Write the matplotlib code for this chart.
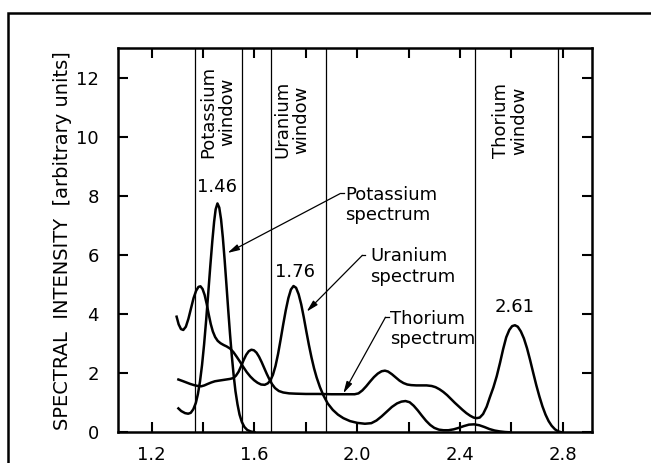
import matplotlib
matplotlib.use('Agg')
import matplotlib.pyplot as plt
from matplotlib.patches import Rectangle

plt.rcParams['font.family'] = ['DejaVu Sans']

# ---- data (energy in MeV, intensity arbitrary) ----
k_x = [1.304, 1.315, 1.330, 1.342, 1.352, 1.362, 1.372, 1.380, 1.388, 1.396,
       1.404, 1.412, 1.420, 1.428, 1.436, 1.443, 1.449, 1.456, 1.463, 1.470,
       1.477, 1.484, 1.491, 1.498, 1.505, 1.512, 1.519, 1.526, 1.534, 1.542,
       1.551, 1.561, 1.572, 1.585, 1.600]
k_y = [0.81, 0.72, 0.65, 0.63, 0.66, 0.78, 1.00, 1.30, 1.72, 2.28,
       2.98, 3.80, 4.70, 5.62, 6.48, 7.14, 7.56, 7.76, 7.62, 7.22,
       6.60, 5.84, 5.00, 4.14, 3.32, 2.58, 1.94, 1.40, 0.95, 0.60,
       0.35, 0.18, 0.08, 0.03, 0.00]

u_x = [1.297, 1.305, 1.314, 1.323, 1.333, 1.343, 1.353, 1.363, 1.373, 1.382,
       1.390, 1.398, 1.406, 1.414, 1.422, 1.430, 1.438, 1.447, 1.457, 1.468,
       1.480, 1.492, 1.505, 1.518, 1.531, 1.544, 1.557, 1.570, 1.584, 1.598,
       1.612, 1.626, 1.640, 1.652, 1.662, 1.672, 1.682, 1.692, 1.702, 1.712,
       1.722, 1.732, 1.742, 1.752, 1.762, 1.772, 1.782, 1.792, 1.802, 1.812,
       1.822, 1.832, 1.842, 1.855, 1.868, 1.885, 1.905, 1.925, 1.946, 1.972,
       2.000, 2.030, 2.055, 2.075, 2.095, 2.115, 2.135, 2.155, 2.172, 2.188,
       2.204, 2.220, 2.236, 2.252, 2.268, 2.284, 2.300, 2.318, 2.336, 2.355,
       2.375, 2.395, 2.415, 2.435, 2.455, 2.475, 2.495, 2.515, 2.535, 2.555,
       2.575, 2.595]
u_y = [3.92, 3.66, 3.50, 3.47, 3.58, 3.85, 4.20, 4.55, 4.80, 4.93,
       4.95, 4.86, 4.66, 4.36, 4.00, 3.67, 3.42, 3.23, 3.10, 3.02,
       2.96, 2.91, 2.84, 2.72, 2.56, 2.39, 2.21, 2.04, 1.89, 1.77,
       1.68, 1.62, 1.61, 1.66, 1.76, 1.95, 2.25, 2.66, 3.15, 3.66,
       4.14, 4.55, 4.84, 4.96, 4.90, 4.68, 4.34, 3.90, 3.42, 2.96,
       2.54, 2.17, 1.86, 1.53, 1.26, 0.98, 0.76, 0.60, 0.48, 0.38,
       0.32, 0.29, 0.31, 0.40, 0.54, 0.70, 0.86, 0.98, 1.04, 1.06,
       1.02, 0.90, 0.74, 0.56, 0.39, 0.25, 0.15, 0.09, 0.07, 0.07,
       0.10, 0.15, 0.21, 0.26, 0.27, 0.24, 0.18, 0.11, 0.06, 0.03,
       0.01, 0.00]

th_x = [1.304, 1.320, 1.335, 1.350, 1.365, 1.380, 1.393, 1.405, 1.418, 1.432,
        1.446, 1.460, 1.475, 1.490, 1.505, 1.518, 1.528, 1.538, 1.548, 1.558,
        1.568, 1.578, 1.588, 1.598, 1.608, 1.618, 1.628, 1.638, 1.648, 1.658,
        1.668, 1.680, 1.695, 1.712, 1.735, 1.760, 1.800, 1.850, 1.900, 1.950,
        1.990, 2.005, 2.020, 2.035, 2.050, 2.065, 2.080, 2.095, 2.108, 2.120,
        2.135, 2.150, 2.165, 2.180, 2.195, 2.210, 2.230, 2.250, 2.270, 2.290,
        2.305, 2.320, 2.335, 2.350, 2.365, 2.380, 2.395, 2.410, 2.425, 2.440,
        2.453, 2.465, 2.477, 2.490, 2.504, 2.516, 2.530, 2.543, 2.556, 2.568,
        2.580, 2.592, 2.603, 2.614, 2.625, 2.637, 2.649, 2.661, 2.673, 2.685,
        2.697, 2.709, 2.721, 2.733, 2.745, 2.757, 2.770, 2.783, 2.795]
th_y = [1.79, 1.74, 1.69, 1.64, 1.60, 1.57, 1.56, 1.59, 1.64, 1.69,
        1.73, 1.75, 1.77, 1.79, 1.81, 1.84, 1.92, 2.05, 2.24, 2.45,
        2.63, 2.75, 2.80, 2.78, 2.70, 2.56, 2.38, 2.18, 1.98, 1.80,
        1.64, 1.50, 1.40, 1.35, 1.32, 1.31, 1.30, 1.30, 1.29, 1.29,
        1.29, 1.32, 1.42, 1.56, 1.72, 1.87, 1.99, 2.07, 2.09, 2.06,
        1.97, 1.86, 1.75, 1.67, 1.62, 1.60, 1.59, 1.59, 1.59, 1.57,
        1.53, 1.46, 1.37, 1.26, 1.13, 1.00, 0.88, 0.76, 0.65, 0.56,
        0.50, 0.48, 0.50, 0.62, 0.87, 1.18, 1.52, 1.90, 2.36, 2.82,
        3.22, 3.47, 3.60, 3.63, 3.58, 3.42, 3.18, 2.85, 2.45, 2.02,
        1.60, 1.22, 0.88, 0.60, 0.38, 0.22, 0.10, 0.03, 0.00]

window_edges = [1.37, 1.553, 1.663, 1.877, 2.457, 2.783]
window_names = ['Potassium\nwindow', 'Uranium\nwindow', 'Thorium\nwindow']
window_label_x = [1.458, 1.746, 2.595]

peak_labels = ['1.46', '1.76', '2.61']
peak_label_pos = [(1.453, 8.33), (1.758, 5.44), (2.614, 4.26)]

spec_names = ['Potassium\nspectrum', 'Uranium\nspectrum', 'Thorium\nspectrum']
spec_text_pos = [(1.952, 7.70), (2.050, 5.62), (2.128, 3.50)]
spec_leader_start = [(1.935, 8.10), (2.020, 6.00), (2.110, 3.90)]
spec_arrow_tip = [(1.495, 6.08), (1.803, 4.09), (1.946, 1.32)]

x_ticks = [1.2, 1.4, 1.6, 1.8, 2.0, 2.2, 2.4, 2.6, 2.8]
x_ticklabels = ['1.2', '', '1.6', '', '2.0', '', '2.4', '', '2.8']
y_ticks = [0, 2, 4, 6, 8, 10, 12]

# ---- figure ----
fig = plt.figure(figsize=(6.51, 4.63), dpi=100)
ax = fig.add_axes([0.1817, 0.0663, 0.7281, 0.8294])

# outer frame of the figure (only left/top edges fall inside the picture)
fig.patches.append(Rectangle((8 / 651, -0.5), 2.0, 1.5 - 13 / 463,
                             transform=fig.transFigure, fill=False,
                             lw=1.8, ec='black'))

lw_curve = 1.8
ax.plot(k_x, k_y, color='black', lw=lw_curve, solid_joinstyle='round')
ax.plot(u_x, u_y, color='black', lw=lw_curve, solid_joinstyle='round')
ax.plot(th_x, th_y, color='black', lw=lw_curve, solid_joinstyle='round')

for xe in window_edges:
    ax.axvline(xe, color='black', lw=0.9)

for name, xc in zip(window_names, window_label_x):
    ax.text(xc, 9.3, name, rotation=90, ha='center', va='bottom',
            fontsize=13, linespacing=1.05)

for lab, (px, py) in zip(peak_labels, peak_label_pos):
    ax.text(px, py, lab, ha='center', va='center', fontsize=13)

for name, (tx, ty), (sx, sy), (ex, ey) in zip(spec_names, spec_text_pos,
                                              spec_leader_start, spec_arrow_tip):
    ax.text(tx, ty, name, ha='left', va='center', fontsize=13, linespacing=1.15)
    ax.plot([sx, sx + 0.012], [sy, sy], color='black', lw=0.9)
    ax.annotate('', xy=(ex, ey), xytext=(sx, sy),
                arrowprops=dict(arrowstyle='-|>,head_length=0.7,head_width=0.18',
                                color='black', lw=0.9, shrinkA=0, shrinkB=0))

ax.set_xlim(1.07, 2.915)
ax.set_ylim(0, 13.02)
ax.set_xticks(x_ticks)
ax.set_xticklabels(x_ticklabels)
ax.set_yticks(y_ticks)
ax.tick_params(direction='in', length=7.5, width=1.5, labelsize=13,
               top=True, right=True)
ax.tick_params(axis='x', pad=10)
ax.tick_params(axis='y', pad=14)
for s in ax.spines.values():
    s.set_linewidth(1.8)

ax.set_ylabel('SPECTRAL  INTENSITY  [arbitrary units]', fontsize=14, labelpad=3)

fig.savefig('out.png', dpi=100)
